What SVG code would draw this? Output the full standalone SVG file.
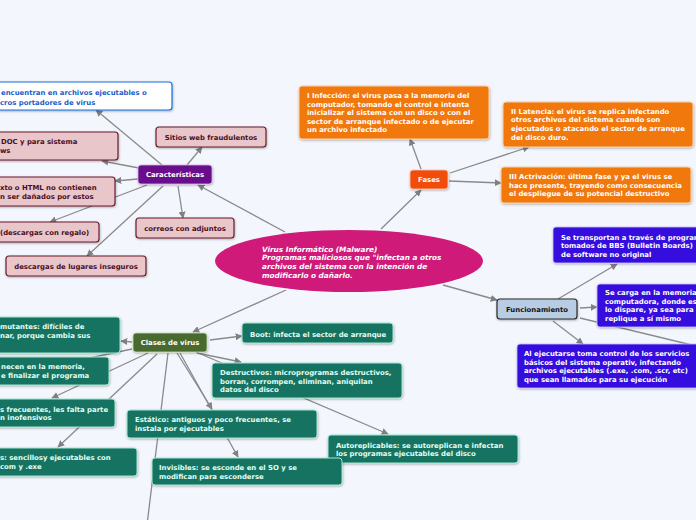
<svg xmlns="http://www.w3.org/2000/svg" width="696" height="520" viewBox="0 0 696 520">
<defs>
<marker id="ah" viewBox="0 0 10 10" refX="9" refY="5" markerWidth="7" markerHeight="7" markerUnits="userSpaceOnUse" orient="auto">
<path d="M0,0 L10,5 L0,10 z" fill="#808080"/>
</marker>
<filter id="sh" x="-10%" y="-20%" width="120%" height="150%">
<feDropShadow dx="0.5" dy="1" stdDeviation="0.8" flood-color="#000" flood-opacity="0.3"/>
</filter>
</defs>
<style>
text{font-family:"DejaVu Sans",Verdana,sans-serif;font-weight:bold;font-size:6.9px}
.c line{stroke:#8a8a8a;stroke-width:1.3;fill:none}
.c .a{marker-end:url(#ah)}
.pk rect{fill:#e8c6ca;stroke:#6b1b2b;stroke-width:1.2}
.pk text{fill:#4a0d1c}
.gr rect{fill:#187362;stroke:#9fe8cf;stroke-width:1}
.gr text{fill:#e2fff3}
.or rect{fill:#f07810;stroke:#fbd0a8;stroke-width:1}
.or text{fill:#fff}
.bl rect{fill:#3511dc;stroke:#c8c0ff;stroke-width:0.8}
.bl text{fill:#fff}
rect{filter:url(#sh)}
.mid{text-anchor:middle}
.ct{fill:#fff;font-style:italic;font-size:7.3px}
</style>
<rect width="696" height="520" fill="#f3f6fd" style="filter:none"/>

<g id="connectors" class="c">
<line class="a" x1="285" y1="232" x2="198" y2="185"/>
<line class="a" x1="381" y1="229" x2="421" y2="190"/>
<line class="a" x1="443" y1="285" x2="497" y2="300"/>
<line class="a" x1="286" y1="290" x2="193" y2="332"/>
<line class="a" x1="162" y1="165" x2="96" y2="110"/>
<line class="a" x1="187" y1="165" x2="202" y2="147"/>
<line class="a" x1="139" y1="168" x2="102" y2="161"/>
<line class="a" x1="138" y1="179" x2="115" y2="181"/>
<line class="a" x1="147" y1="185" x2="50" y2="222"/>
<line class="a" x1="163" y1="186" x2="87" y2="256"/>
<line class="a" x1="178" y1="186" x2="183" y2="218"/>
<line class="a" x1="421" y1="169" x2="410" y2="139"/>
<line class="a" x1="450" y1="173" x2="529" y2="147"/>
<line class="a" x1="449" y1="181" x2="501" y2="183"/>
<line class="a" x1="558" y1="299" x2="617" y2="264"/>
<line class="a" x1="580" y1="308" x2="597" y2="307"/>
<line class="a" x1="553" y1="321" x2="583" y2="344"/>
<line x1="580" y1="318" x2="700" y2="347"/>
<line class="a" x1="132" y1="342" x2="121" y2="341"/>
<line class="a" x1="210" y1="340" x2="242" y2="336"/>
<line class="a" x1="197" y1="353" x2="241" y2="362"/>
<line class="a" x1="196" y1="352" x2="388" y2="434"/>
<line class="a" x1="177" y1="353" x2="212" y2="409"/>
<line class="a" x1="180" y1="353" x2="238" y2="457"/>
<line x1="168" y1="353" x2="147" y2="525"/>
<line x1="132" y1="349" x2="80" y2="360"/>
<line class="a" x1="148" y1="353" x2="52" y2="398"/>
<line class="a" x1="157" y1="354" x2="58" y2="447"/>
</g>

<g id="central">
<ellipse cx="349" cy="261" rx="134" ry="31" fill="#cf1a79"/>
<text x="262" y="251.5" class="ct">Virus Informático (Malware)</text>
<text x="262" y="260.2" class="ct">Programas maliciosos que "infectan a otros</text>
<text x="262" y="268.9" class="ct">archivos del sistema con la intención de</text>
<text x="262" y="277.6" class="ct">modificarlo o dañarlo.</text>
</g>

<g id="caracteristicas">
<rect x="138" y="165" width="74" height="19" rx="3" fill="#6a0a8a" stroke="#d8b8e8" stroke-width="0.8"/>
<text x="175" y="177" class="mid" fill="#fff">Características</text>
</g>

<g id="encuentran">
<rect x="-10" y="82" width="182" height="28" rx="3" fill="#fff" stroke="#1a6ee0" stroke-width="1.2"/>
<text x="1" y="94.5" fill="#1a5cc8">encuentran en archivos ejecutables o</text>
<text x="0" y="104.5" fill="#1a5cc8">cros portadores de virus</text>
</g>

<g id="sitios" class="pk">
<rect x="156" y="127" width="110" height="20" rx="3"/>
<text x="211" y="139.5" class="mid">Sitios web fraudulentos</text>
</g>

<g id="doc" class="pk">
<rect x="-10" y="132" width="128" height="28" rx="3"/>
<text x="1" y="144.3">DOC y para sistema</text>
<text x="0" y="152.9">ws</text>
</g>

<g id="html" class="pk">
<rect x="-10" y="177" width="125" height="29" rx="3"/>
<text x="0" y="189.5">xto o HTML no contienen</text>
<text x="0" y="198.5">n ser dañados por estos</text>
</g>

<g id="regalo" class="pk">
<rect x="-10" y="222" width="109" height="20" rx="3"/>
<text x="0" y="234.5">(descargas con regalo)</text>
</g>

<g id="correos" class="pk">
<rect x="136" y="218" width="98" height="20" rx="3"/>
<text x="185" y="230.5" class="mid">correos con adjuntos</text>
</g>

<g id="lugares" class="pk">
<rect x="6" y="256" width="140" height="20" rx="3"/>
<text x="76" y="269" class="mid">descargas de lugares inseguros</text>
</g>

<g id="fases">
<rect x="410" y="170" width="38" height="19" rx="3" fill="#f04e10" stroke="#fbc8a8" stroke-width="0.8"/>
<text x="429" y="182.3" class="mid" fill="#fff">Fases</text>
</g>

<g id="infeccion" class="or">
<rect x="299" y="86" width="190" height="53" rx="3"/>
<text x="307" y="98.3">I Infección: el virus pasa a la memoria del</text>
<text x="307" y="106.8">computador, tomando el control e intenta</text>
<text x="307" y="115.3">inicializar el sistema con un disco o con el</text>
<text x="307" y="123.8">sector de arranque infectado o de ejecutar</text>
<text x="307" y="132.3">un archivo infectado</text>
</g>

<g id="latencia" class="or">
<rect x="503" y="102" width="190" height="45" rx="3"/>
<text x="511" y="113.5">II Latencia: el virus se replica infectando</text>
<text x="511" y="122.2">otros archivos del sistema cuando son</text>
<text x="511" y="130.8">ejecutados o atacando el sector de arranque</text>
<text x="511" y="139.5">del disco duro.</text>
</g>

<g id="activacion" class="or">
<rect x="501" y="167" width="190" height="36" rx="3"/>
<text x="509" y="178.8">III Actrivación: última fase y ya el virus se</text>
<text x="509" y="187.5">hace presente, trayendo como consecuencia</text>
<text x="509" y="196.2">el despliegue de su potencial destructivo</text>
</g>

<g id="funcionamiento">
<rect x="497" y="299" width="80" height="20" rx="3" fill="#b8cce4" stroke="#2a2a2a" stroke-width="1.2"/>
<text x="537" y="312" class="mid" fill="#111">Funcionamiento</text>
</g>

<g id="transportan" class="bl">
<rect x="553" y="227" width="160" height="36" rx="3"/>
<text x="561" y="239.8">Se transportan a través de program</text>
<text x="561" y="248.3">tomados de BBS (Bulletin Boards)</text>
<text x="561" y="256.8">de software no original</text>
</g>

<g id="carga" class="bl">
<rect x="597" y="284" width="120" height="43" rx="3"/>
<text x="605" y="295.2">Se carga en la memoria</text>
<text x="605" y="303.7">computadora, donde es</text>
<text x="605" y="312.2">lo dispare, ya sea para</text>
<text x="605" y="320.7">replique a sí mismo</text>
</g>

<g id="ejecutarse" class="bl">
<rect x="517" y="344" width="200" height="44" rx="3"/>
<text x="524" y="355.8">Al ejecutarse toma control de los servicios</text>
<text x="524" y="364.5">básicos del sistema operativ, infectando</text>
<text x="524" y="373.2">archivos ejecutables (.exe, .com, .scr, etc)</text>
<text x="524" y="381.9">que sean llamados para su ejecución</text>
</g>

<g id="clases">
<rect x="133" y="333" width="74" height="19" rx="3" fill="#4a6a2e" stroke="#c8dcb0" stroke-width="0.8"/>
<text x="170" y="345.2" class="mid" fill="#fff">Clases de virus</text>
</g>

<g id="boot" class="gr">
<rect x="242" y="323" width="151" height="20" rx="3"/>
<text x="250" y="336.5">Boot: infecta el sector de arranque</text>
</g>

<g id="destructivos" class="gr">
<rect x="212" y="363" width="190" height="35" rx="3"/>
<text x="220" y="375.2">Destructivos: microprogramas destructivos,</text>
<text x="220" y="383.8">borran, corrompen, eliminan, aniquilan</text>
<text x="220" y="392.4">datos del disco</text>
</g>

<g id="estatico" class="gr">
<rect x="127" y="410" width="190" height="28" rx="3"/>
<text x="135" y="421.8">Estático: antiguos y poco frecuentes, se</text>
<text x="135" y="431.1">instala por ejecutables</text>
</g>

<g id="autoreplicables" class="gr">
<rect x="328" y="435" width="190" height="28" rx="3"/>
<text x="336" y="447.5">Autoreplicables: se autoreplican e infectan</text>
<text x="336" y="456">los programas ejecutables del disco</text>
</g>

<g id="invisibles" class="gr">
<rect x="152" y="458" width="190" height="27" rx="3"/>
<text x="159" y="470.2">Invisibles: se esconde en el SO y se</text>
<text x="159" y="478.5">modifican para esconderse</text>
</g>

<g id="mutantes" class="gr">
<rect x="-10" y="317" width="130" height="36" rx="3"/>
<text x="0" y="329.2">mutantes: difíciles de</text>
<text x="0" y="338">nar, porque cambia sus</text>
</g>

<g id="residentes" class="gr">
<rect x="-10" y="357" width="119" height="28" rx="3"/>
<text x="1" y="369.2">necen en la memoria,</text>
<text x="1" y="377.6">e finalizar el programa</text>
</g>

<g id="frecuentes" class="gr">
<rect x="-10" y="399" width="125" height="28" rx="3"/>
<text x="0" y="411.8">s frecuentes, les falta parte</text>
<text x="0" y="420.2">n inofensivos</text>
</g>

<g id="sencillos" class="gr">
<rect x="-10" y="448" width="147" height="28" rx="3"/>
<text x="0" y="459.8">s: sencillosy ejecutables con</text>
<text x="0" y="469.2">com y .exe</text>
</g>
</svg>
